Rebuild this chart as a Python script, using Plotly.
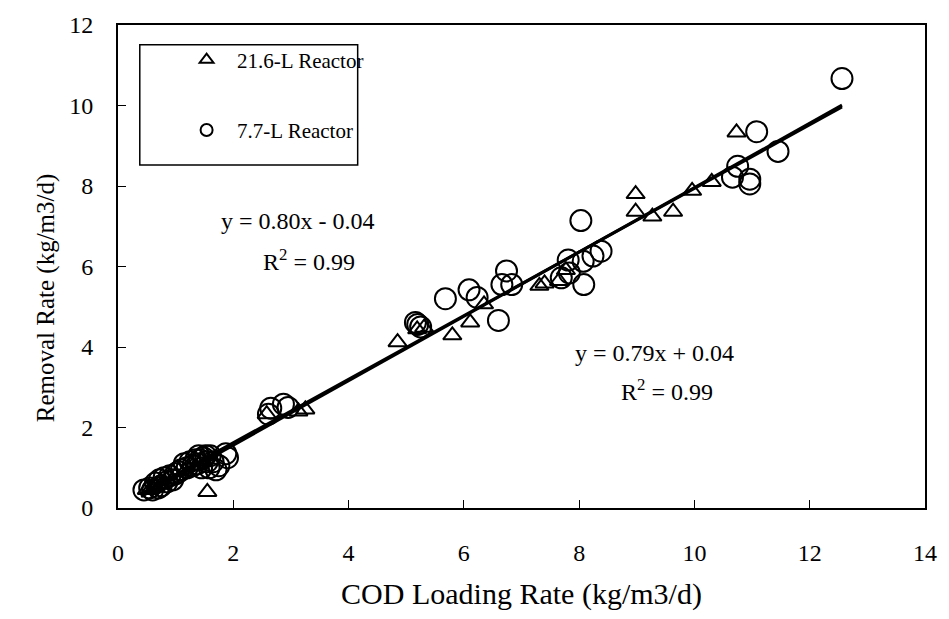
import plotly.graph_objects as go

# 21.6-L Reactor (triangles)
tri_x = [0.50, 0.58, 0.65, 0.75, 0.85, 1.00, 1.15, 1.30, 1.45, 1.55, 1.60,
         2.58, 3.13, 3.25, 4.85, 5.19, 5.31, 5.80, 6.11, 6.35, 7.31, 7.40, 7.65, 7.77,
         8.98, 8.98, 9.27, 9.63, 9.96, 10.30, 10.73]
tri_y = [0.45, 0.50, 0.52, 0.58, 0.70, 0.80, 0.90, 1.05, 1.15, 0.40, 1.20,
         2.33, 2.40, 2.45, 4.12, 4.44, 4.48, 4.29, 4.61, 5.06, 5.52, 5.58, 5.64, 5.91,
         7.80, 7.36, 7.24, 7.36, 7.88, 8.10, 9.33]

# 7.7-L Reactor (circles)
cir_x = [0.45, 0.55, 0.60, 0.65, 0.70, 0.72, 0.75, 0.80, 0.85, 0.90, 0.95, 1.00, 1.05,
         1.10, 1.15, 1.20, 1.25, 1.30, 1.35, 1.38, 1.40, 1.42, 1.45, 1.48,
         1.52, 1.55, 1.58, 1.60, 1.65, 1.70, 1.75, 1.87, 1.90,
         2.61, 2.65, 2.87, 2.95, 5.16, 5.20, 5.25,
         5.68, 6.09, 6.23, 6.60, 6.74, 6.66, 6.83,
         7.69, 7.83, 7.81, 8.03, 8.07, 8.08, 8.24, 8.38,
         10.66, 10.75, 10.96, 10.96, 11.08, 11.45, 12.56]
cir_y = [0.45, 0.50, 0.45, 0.62, 0.50, 0.70, 0.55, 0.75, 0.65, 0.80, 0.70, 0.85, 0.90,
         0.95, 1.10, 1.00, 1.15, 1.05, 1.20, 1.10, 1.30, 1.20, 1.00, 1.25,
         1.30, 1.15, 1.00, 1.30, 1.15, 0.95, 1.05, 1.35, 1.25,
         2.33, 2.48, 2.58, 2.50, 4.61, 4.56, 4.50,
         5.20, 5.42, 5.23, 4.66, 5.89, 5.55, 5.55,
         5.72, 5.84, 6.16, 7.14, 6.13, 5.55, 6.26, 6.38,
         8.22, 8.49, 8.17, 8.05, 9.35, 8.86, 10.67]

# trendline parameters
fit_slopes = [0.80, 0.79]
fit_intercepts = [-0.04, 0.04]
eq_texts = ["y = 0.80x - 0.04", "y = 0.79x + 0.04"]
r2_texts = ["R<sup>2</sup> = 0.99", "R<sup>2</sup> = 0.99"]

x_ticks = [0, 2, 4, 6, 8, 10, 12, 14]
y_ticks = [0, 2, 4, 6, 8, 10, 12]

FONT = "Liberation Serif, Times New Roman, serif"

fig = go.Figure()

fig.add_trace(go.Scatter(
    x=tri_x, y=tri_y, mode="markers", name="  21.6-L Reactor",
    legendgroup="a",
    marker=dict(symbol="triangle-up-open", size=16, color="black",
                line=dict(width=2, color="black")),
))
fig.add_trace(go.Scatter(
    x=cir_x, y=cir_y, mode="markers", name="  7.7-L Reactor",
    legendgroup="b",
    marker=dict(symbol="circle-open", size=21, color="black",
                line=dict(width=2, color="black")),
))

xmin = 0.4
xmax = max(max(tri_x), max(cir_x))
for s, b in zip(fit_slopes, fit_intercepts):
    fig.add_trace(go.Scatter(
        x=[xmin, xmax], y=[s * xmin + b, s * xmax + b], mode="lines",
        line=dict(color="black", width=3), showlegend=False, hoverinfo="skip",
    ))

# equation labels
eq_pos = [(3.13, 7.12, 3.31, 6.15), (9.30, 3.85, 9.52, 2.94)]
for (ex, ey, rx, ry), et, rt in zip(eq_pos, eq_texts, r2_texts):
    fig.add_annotation(x=ex, y=ey, text=et, showarrow=False,
                       font=dict(family=FONT, size=24, color="black"))
    fig.add_annotation(x=rx, y=ry, text=rt, showarrow=False,
                       font=dict(family=FONT, size=24, color="black"))

# y-axis title (placed as in the reference, slightly below plot centre)
fig.add_annotation(xref="paper", yref="paper", x=-0.108, y=0.436,
                   text="Removal Rate (kg/m3/d)", textangle=-90, showarrow=False,
                   font=dict(family=FONT, size=25, color="black"))

# legend box
fig.add_shape(type="rect", xref="paper", yref="paper",
              x0=0.027, x1=0.297, y0=0.71, y1=0.959,
              line=dict(color="black", width=1.5), fillcolor="rgba(0,0,0,0)")

fig.update_layout(
    width=949, height=619,
    margin=dict(l=118, r=17, t=19, b=111),
    paper_bgcolor="white", plot_bgcolor="white",
    font=dict(family=FONT, size=23, color="black"),
    legend=dict(x=0.085, y=0.97, xanchor="left", yanchor="top",
                bgcolor="rgba(0,0,0,0)", borderwidth=0,
                traceorder="grouped", tracegroupgap=40,
                itemsizing="constant",
                font=dict(family=FONT, size=21, color="black")),
    xaxis=dict(range=[0, 14], tickvals=x_ticks, ticks="inside", ticklen=8,
               tickwidth=1, tickcolor="black", showline=True, linecolor="black",
               linewidth=2, mirror=True, showgrid=False, zeroline=False,
               ticklabelstandoff=22, tickfont=dict(size=24),
               title=dict(text="COD Loading Rate (kg/m3/d)", standoff=18,
                          font=dict(family=FONT, size=30))),
    yaxis=dict(range=[0, 12], tickvals=y_ticks, ticks="inside", ticklen=8,
               tickwidth=1, tickcolor="black", showline=True, linecolor="black",
               linewidth=2, mirror=True, showgrid=False, zeroline=False,
               ticklabelstandoff=18, tickfont=dict(size=24)),
)

fig.write_html("out.html")
